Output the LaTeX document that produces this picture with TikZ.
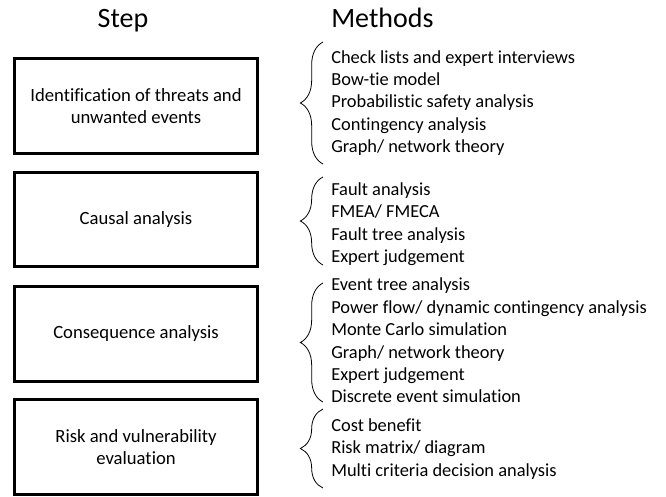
\documentclass[tikz,border=0pt]{standalone}
\usepackage{fontspec}
\setmainfont[Ligatures=NoCommon]{Carlito}
\usetikzlibrary{decorations.pathreplacing}
\tikzset{
  stepbox/.style={draw,line width=2.1pt,minimum width=182pt,minimum height=71pt,align=center,font=\fontsize{14}{16.2}\selectfont},
  methodlist/.style={anchor=west,align=left,inner sep=0pt,font=\fontsize{13.8}{16.8}\selectfont},
  heading/.style={anchor=base,font=\fontsize{21}{24}\selectfont},
  methodbrace/.style={decorate,decoration={brace,amplitude=17pt},line width=0.6pt}
}
\begin{document}
\begin{tikzpicture}[x=0.75pt,y=-0.75pt]
\useasboundingbox (0,0) rectangle (666,496);
\node[heading] (steptitle) at (123,27) {Step};
\node[heading,anchor=base west,inner sep=0pt] (methodtitle) at (331,27) {Methods};
\node[stepbox] (ident) at (136,106) {Identification of threats and\\unwanted events};
\node[stepbox] (causal) at (136,219.5) {Causal analysis};
\node[stepbox] (conseq) at (136,334) {Consequence analysis};
\node[stepbox] (evalrisk) at (136,447) {Risk and vulnerability\\evaluation};
\node[methodlist] (identlist) at (331,103) {Check lists and expert interviews\\Bow-tie model\\Probabilistic safety analysis\\Contingency analysis\\Graph/ network theory};
\node[methodlist] (causallist) at (331,224) {Fault analysis\\FMEA/ FMECA\\Fault tree analysis\\Expert judgement};
\node[methodlist] (conseqlist) at (331,340.5) {Event tree analysis\\Power flow/ dynamic contingency analysis\\Monte Carlo simulation\\Graph/ network theory\\Expert judgement\\Discrete event simulation};
\node[methodlist] (evallist) at (331,449) {Cost benefit\\Risk matrix/ diagram\\Multi criteria decision analysis};
\draw[methodbrace] (323,164) -- (323,42);
\draw[methodbrace] (323,265) -- (323,177);
\draw[methodbrace] (323,402) -- (323,283);
\draw[methodbrace] (323,488) -- (323,409);
\end{tikzpicture}
\end{document}
